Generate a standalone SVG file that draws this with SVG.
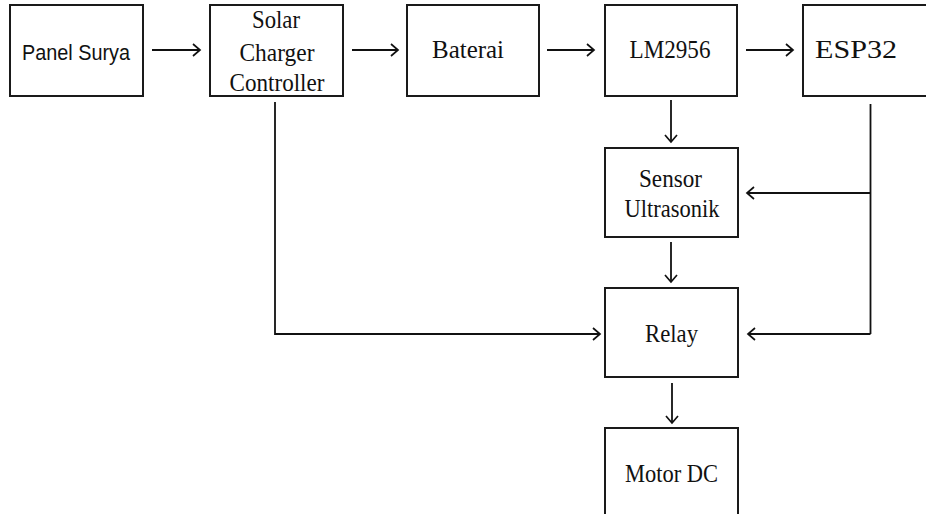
<svg xmlns="http://www.w3.org/2000/svg" width="926" height="514" viewBox="0 0 926 514">
<style>
.box{fill:#fff;stroke:#1a1a1a;stroke-width:2}
.t{font-family:"Liberation Serif","Times New Roman",serif;font-size:26px;fill:#111;text-anchor:middle}
.s{font-family:"Liberation Sans",Arial,sans-serif;font-size:22px;fill:#111;text-anchor:middle}
.c{fill:none;stroke:#111;stroke-width:1.8}
</style>
<defs>
<marker id="ah" markerUnits="userSpaceOnUse" markerWidth="10" markerHeight="14" refX="8" refY="7" orient="auto" viewBox="0 0 10 14">
<path d="M1,1 L8,7 L1,13" fill="none" stroke="#111" stroke-width="1.7"/>
</marker>
</defs>
<rect width="926" height="514" fill="#fff"/>
<g id="panel-surya"><rect class="box" x="10" y="5" width="133" height="91"/><text class="s" x="76" y="60" textLength="108" lengthAdjust="spacingAndGlyphs">Panel Surya</text></g>
<g id="solar-charger"><rect class="box" x="210" y="5" width="133" height="91"/>
<text class="t" x="276" y="28" textLength="48" lengthAdjust="spacingAndGlyphs">Solar</text>
<text class="t" x="277" y="61" textLength="75" lengthAdjust="spacingAndGlyphs">Charger</text>
<text class="t" x="277" y="91" textLength="95" lengthAdjust="spacingAndGlyphs">Controller</text></g>
<g id="baterai"><rect class="box" x="407" y="5" width="132" height="91"/><text class="t" x="468" y="58" textLength="72" lengthAdjust="spacingAndGlyphs">Baterai</text></g>
<g id="lm2956"><rect class="box" x="605" y="5" width="132" height="91"/><text class="t" x="670" y="58" textLength="81" lengthAdjust="spacingAndGlyphs">LM2956</text></g>
<g id="esp32"><rect class="box" x="803" y="5" width="130" height="91"/><text class="t" x="856" y="58" textLength="82" lengthAdjust="spacingAndGlyphs">ESP32</text></g>
<g id="sensor-ultrasonik"><rect class="box" x="605" y="148" width="133" height="89"/>
<text class="t" x="670.5" y="187" textLength="63" lengthAdjust="spacingAndGlyphs">Sensor</text>
<text class="t" x="672" y="217" textLength="95" lengthAdjust="spacingAndGlyphs">Ultrasonik</text></g>
<g id="relay"><rect class="box" x="605" y="288" width="133" height="89"/><text class="t" x="671.5" y="342" textLength="53" lengthAdjust="spacingAndGlyphs">Relay</text></g>
<g id="motor-dc"><rect class="box" x="605" y="428" width="133" height="95"/><text class="t" x="671.5" y="482" textLength="93" lengthAdjust="spacingAndGlyphs">Motor DC</text></g>
<g id="connectors">
<line class="c" x1="152" y1="50" x2="200" y2="50" marker-end="url(#ah)"/>
<line class="c" x1="352" y1="50" x2="398" y2="50" marker-end="url(#ah)"/>
<line class="c" x1="547" y1="50" x2="594" y2="50" marker-end="url(#ah)"/>
<line class="c" x1="746" y1="50" x2="793" y2="50" marker-end="url(#ah)"/>
<line class="c" x1="671" y1="100" x2="671" y2="142" marker-end="url(#ah)"/>
<line class="c" x1="671" y1="242" x2="671" y2="282" marker-end="url(#ah)"/>
<line class="c" x1="672" y1="383" x2="672" y2="423" marker-end="url(#ah)"/>
<polyline class="c" points="275,102 275,334 600,334" marker-end="url(#ah)"/>
<line class="c" x1="870.5" y1="104" x2="870.5" y2="334"/>
<line class="c" x1="870.5" y1="193" x2="747" y2="193" marker-end="url(#ah)"/>
<line class="c" x1="870.5" y1="334" x2="748" y2="334" marker-end="url(#ah)"/>
</g>
</svg>
